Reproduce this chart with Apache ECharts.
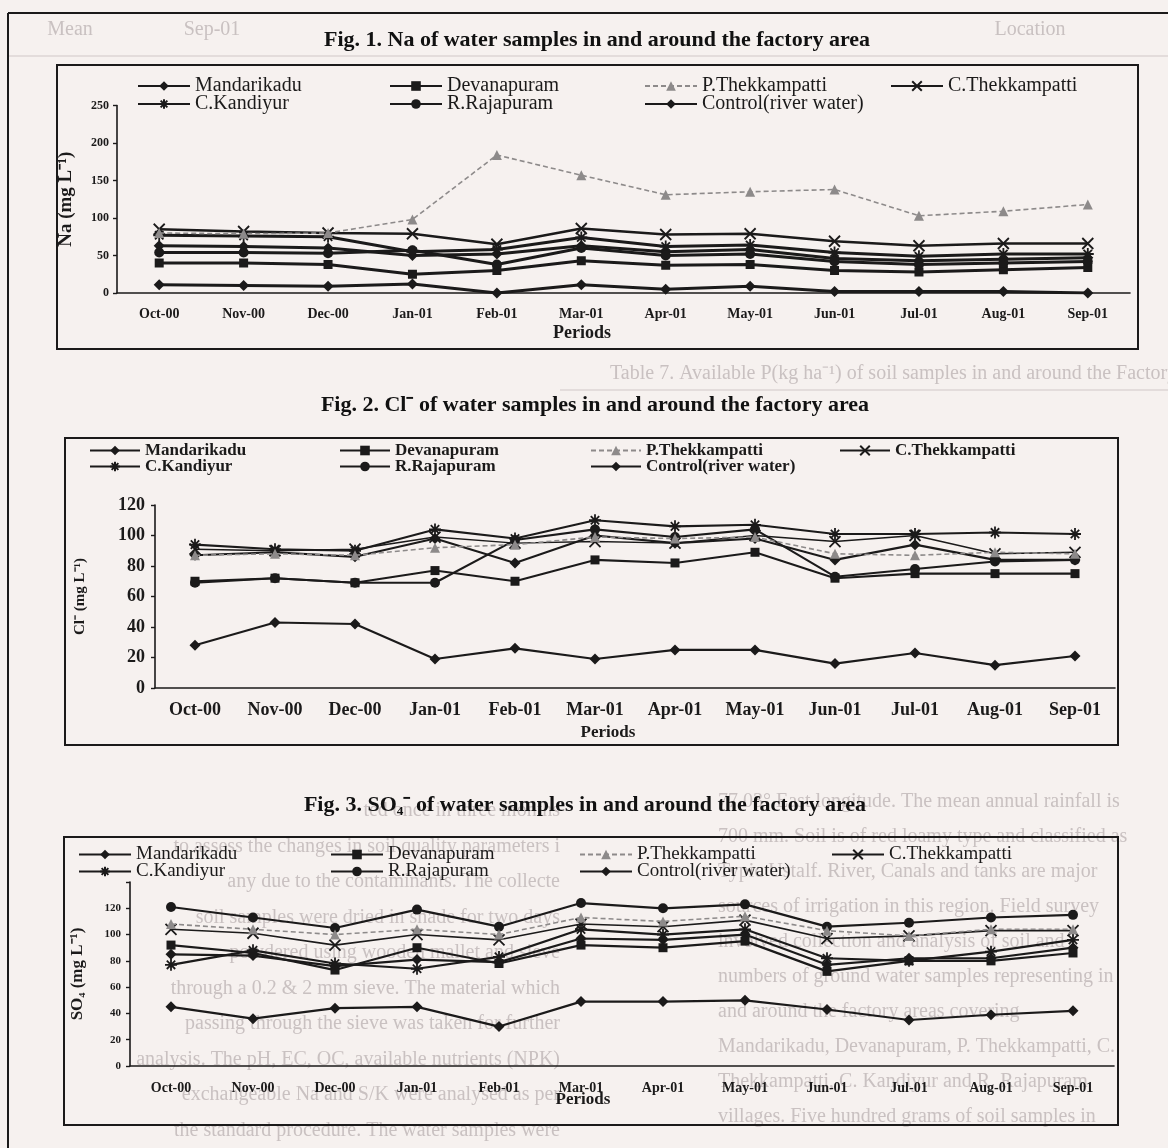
<!DOCTYPE html>
<html lang="en">
<head>
<meta charset="UTF-8">
<title>Na, Cl and SO4 of water samples in and around the factory area</title>
<script src="https://cdn.jsdelivr.net/npm/echarts@6/dist/echarts.min.js"></script>
<style>
  html, body { margin: 0; padding: 0; background: #f6f1ef; }
  #main { width: 1168px; height: 1148px; }
</style>
</head>
<body>
<div id="main"></div>
<script>
// sampling periods
var periods = ['Oct-00', 'Nov-00', 'Dec-00', 'Jan-01', 'Feb-01', 'Mar-01',
               'Apr-01', 'May-01', 'Jun-01', 'Jul-01', 'Aug-01', 'Sep-01'];
var stations = ['Mandarikadu', 'Devanapuram', 'P.Thekkampatti', 'C.Thekkampatti',
                'C.Kandiyur', 'R.Rajapuram', 'Control(river water)'];

// Fig. 1  Na (mg L-1)
var naMandarikadu   = [63, 62, 60, 50, 52, 63, 55, 58, 46, 43, 45, 47];
var naDevanapuram   = [40, 40, 38, 25, 30, 43, 37, 38, 30, 28, 31, 34];
var naPThekkampatti = [80, 79, 80, 98, 184, 157, 131, 135, 138, 103, 109, 118];
var naCThekkampatti = [85, 82, 80, 79, 65, 86, 78, 79, 69, 63, 66, 66];
var naCKandiyur     = [77, 76, 75, 55, 58, 74, 62, 64, 54, 49, 52, 52];
var naRRajapuram    = [54, 54, 53, 57, 38, 60, 50, 52, 42, 38, 40, 42];
var naControl       = [11, 10, 9, 12, 0, 11, 5, 9, 2, 2, 2, 0];

// Fig. 2  Cl- (mg L-1)
var clMandarikadu   = [87, 89, 86, 98, 82, 100, 95, 98, 84, 94, 84, 84];
var clDevanapuram   = [70, 72, 69, 77, 70, 84, 82, 89, 72, 75, 75, 75];
var clPThekkampatti = [87, 88, 87, 92, 94, 99, 98, 99, 88, 87, 89, 88];
var clCThekkampatti = [91, 90, 91, 99, 95, 96, 95, 100, 96, 100, 88, 89];
var clCKandiyur     = [94, 91, 90, 104, 98, 110, 106, 107, 101, 101, 102, 101];
var clRRajapuram    = [69, 72, 69, 69, 97, 104, 99, 104, 73, 78, 83, 84];
var clControl       = [28, 43, 42, 19, 26, 19, 25, 25, 16, 23, 15, 21];

// Fig. 3  SO4 (mg L-1)
var soMandarikadu   = [85, 84, 76, 81, 79, 97, 96, 100, 77, 82, 82, 90];
var soDevanapuram   = [92, 86, 73, 90, 78, 92, 90, 95, 72, 80, 80, 86];
var soPThekkampatti = [108, 104, 100, 104, 100, 113, 110, 114, 103, 99, 104, 104];
var soCThekkampatti = [104, 101, 92, 100, 96, 108, 106, 111, 97, 99, 103, 103];
var soCKandiyur     = [77, 88, 78, 74, 83, 104, 100, 104, 82, 80, 87, 96];
var soRRajapuram    = [121, 113, 105, 119, 106, 124, 120, 123, 106, 109, 113, 115];
var soControl       = [45, 36, 44, 45, 30, 49, 49, 50, 43, 35, 39, 42];

var naTicks = [0, 50, 100, 150, 200, 250];
var clTicks = [0, 20, 40, 60, 80, 100, 120];
var soTicks = [0, 20, 40, 60, 80, 100, 120];

var figData = [
  [naMandarikadu, naDevanapuram, naPThekkampatti, naCThekkampatti, naCKandiyur, naRRajapuram, naControl],
  [clMandarikadu, clDevanapuram, clPThekkampatti, clCThekkampatti, clCKandiyur, clRRajapuram, clControl],
  [soMandarikadu, soDevanapuram, soPThekkampatti, soCThekkampatti, soCKandiyur, soRRajapuram, soControl]
];

var SERIF = '"Liberation Serif", "Times New Roman", serif';
var INK = '#1b1a1a';
var GREY = '#8d8a8a';
var FAINT = '#c9c1c1';

// marker for each station
var symX = 'path://M0,0L10,10M10,0L0,10';
var symStar = 'path://M5,0L5,10M0,5L10,5M1.5,1.5L8.5,8.5M8.5,1.5L1.5,8.5';
var marks = [
  { symbol: 'diamond', size: 11, color: INK },
  { symbol: 'rect', size: 9, color: INK },
  { symbol: 'triangle', size: 10, color: GREY, dashed: true },
  { symbol: symX, size: 11, color: INK, stroke: true, thin: true },
  { symbol: symStar, size: 12, color: INK, stroke: true },
  { symbol: 'circle', size: 10, color: INK },
  { symbol: 'diamond', size: 11, color: INK }
];
var lineWidths = [2.9, 2.1, 2.2];

var series = [];
figData.forEach(function (rows, g) {
  rows.forEach(function (vals, i) {
    var m = marks[i];
    series.push({
      name: stations[i],
      type: 'line',
      xAxisIndex: g,
      yAxisIndex: g,
      data: vals,
      symbol: m.symbol,
      symbolSize: m.size,
      showAllSymbol: true,
      z: m.dashed ? 4 : 3,
      itemStyle: {
        color: m.color,
        borderColor: m.color,
        borderWidth: m.stroke ? 1.8 : 0
      },
      lineStyle: {
        color: m.color,
        width: m.dashed ? 1.6 : (m.thin ? lineWidths[g] - 0.6 : lineWidths[g]),
        type: m.dashed ? [5, 3] : 'solid'
      },
      emphasis: { disabled: true }
    });
  });
});

// legend boxes, one per item, placed like the printed keys
function legendsFor(cols, rows, iconW, font) {
  var slots = [[0, 0], [1, 0], [2, 0], [3, 0], [0, 1], [1, 1], [2, 1]];
  return stations.map(function (name, i) {
    var s = slots[i];
    return {
      data: [name],
      left: cols[s[0]],
      top: rows[s[1]] - 7,
      itemWidth: iconW,
      itemHeight: 12,
      padding: 0,
      selectedMode: false,
      textStyle: font
    };
  });
}
var legends = []
  .concat(legendsFor([137, 389, 644, 890], [83, 101], 52,
    { fontFamily: SERIF, fontSize: 20, color: INK }))
  .concat(legendsFor([89, 339, 590, 839], [449, 465], 50,
    { fontFamily: SERIF, fontSize: 17, fontWeight: 'bold', color: INK }))
  .concat(legendsFor([78, 330, 579, 831], [852, 869], 52,
    { fontFamily: SERIF, fontSize: 19, color: INK }));

function xAxisFor(g, fontSize, margin) {
  return {
    type: 'category',
    gridIndex: g,
    data: periods,
    axisLine: { lineStyle: { color: INK, width: 1.6 } },
    axisTick: { lineStyle: { color: INK, width: 1.4 }, length: 4 },
    axisLabel: { fontFamily: SERIF, fontWeight: 'bold', fontSize: fontSize, color: INK, margin: margin, interval: 0 },
    splitLine: { show: false }
  };
}
function yAxisFor(g, ticks, max, name, nameSize, nameGap, fontSize, margin) {
  return {
    type: 'value',
    gridIndex: g,
    min: ticks[0],
    max: max,
    interval: ticks[1] - ticks[0],
    name: name,
    nameLocation: 'middle',
    nameRotate: 90,
    nameGap: nameGap,
    nameTextStyle: { fontFamily: SERIF, fontWeight: 'bold', fontSize: nameSize, color: INK },
    axisLine: { show: true, lineStyle: { color: INK, width: 1.6 } },
    axisTick: { show: true, lineStyle: { color: INK, width: 1.4 }, length: 4 },
    axisLabel: {
      fontFamily: SERIF, fontWeight: 'bold', fontSize: fontSize, color: INK, margin: margin,
      formatter: function (v) { return ticks.indexOf(v) >= 0 ? String(v) : ''; }
    },
    splitLine: { show: false }
  };
}

// faint text of the printed page that shows round the figures
var leftColumn = [
  'ted once in three months',
  'to assess the changes in soil quality parameters i',
  'any due to the contaminants. The collecte',
  'soil samples were dried in shade for two days',
  'powdered using wooden mallet and sieve',
  'through a 0.2 & 2 mm sieve. The material which',
  'passing through the sieve was taken for further',
  'analysis. The pH, EC, OC, available nutrients (NPK)',
  'exchangeable Na and S/K were analysed as per',
  'the standard procedure. The water samples were'
];
var rightColumn = [
  '77.03° East longitude. The mean annual rainfall is',
  '700 mm. Soil is of red loamy type and classified as',
  'Typic Ustalf. River, Canals and tanks are major',
  'sources of irrigation in this region. Field survey',
  'involved collection and analysis of soil and',
  'numbers of ground water samples representing in',
  'and around the factory areas covering',
  'Mandarikadu, Devanapuram, P. Thekkampatti, C.',
  'Thekkampatti, C. Kandiyur and R. Rajapuram',
  'villages. Five hundred grams of soil samples in'
];
var tableHead = [['Mean', 70], ['Sep-01', 212], ['Location', 1030]];

var graphics = [];
leftColumn.forEach(function (t, k) {
  graphics.push({ type: 'text', z: -5, x: 560, y: 811 + k * 35.5,
    style: { text: t, fill: FAINT, font: '20px ' + SERIF, textAlign: 'right', textVerticalAlign: 'middle' } });
});
rightColumn.forEach(function (t, k) {
  graphics.push({ type: 'text', z: -5, x: 718, y: 802 + k * 35,
    style: { text: t, fill: FAINT, font: '20px ' + SERIF, textAlign: 'left', textVerticalAlign: 'middle' } });
});
tableHead.forEach(function (h) {
  graphics.push({ type: 'text', z: -5, x: h[1], y: 30,
    style: { text: h[0], fill: FAINT, font: '20px ' + SERIF, textAlign: 'center', textVerticalAlign: 'middle' } });
});
graphics.push({ type: 'line', z: -5, shape: { x1: 8, y1: 56, x2: 1168, y2: 56 }, style: { stroke: '#ddd5d5', lineWidth: 1.5 } });
graphics.push({ type: 'text', z: -5, x: 610, y: 374,
  style: { text: 'Table 7. Available P(kg ha⁻¹) of soil samples in and around the Factory Area',
    fill: FAINT, font: '20px ' + SERIF, textVerticalAlign: 'middle' } });
graphics.push({ type: 'line', z: -5, shape: { x1: 560, y1: 390, x2: 1168, y2: 390 }, style: { stroke: '#ddd5d5', lineWidth: 1.5 } });

// page frame and figure boxes
graphics.push({ type: 'line', z: 1, shape: { x1: 8, y1: 13, x2: 1168, y2: 13 }, style: { stroke: INK, lineWidth: 2 } });
graphics.push({ type: 'line', z: 1, shape: { x1: 8, y1: 13, x2: 8, y2: 1148 }, style: { stroke: INK, lineWidth: 2 } });
[[57, 65, 1081, 284], [65, 438, 1053, 307], [64, 837, 1054, 288]].forEach(function (b) {
  graphics.push({ type: 'rect', z: 1, shape: { x: b[0], y: b[1], width: b[2], height: b[3] },
    style: { fill: 'none', stroke: INK, lineWidth: 2 } });
});

// figure captions
function caption(x, y, text) {
  return { type: 'text', z: 10, x: x, y: y,
    style: { text: text, fill: '#111', font: 'bold 22px ' + SERIF, textAlign: 'center', textVerticalAlign: 'middle' } };
}
graphics.push(caption(597, 40, 'Fig. 1. Na of water samples in and around the factory area'));
graphics.push(caption(595, 405, 'Fig. 2. Cl⁻ of water samples in and around the factory area'));
graphics.push(caption(585, 805, 'Fig. 3. SO₄⁻ of water samples in and around the factory area'));

// x axis titles
[[582, 333, 18], [608, 733, 17], [583, 1100, 17]].forEach(function (p) {
  graphics.push({ type: 'text', z: 10, x: p[0], y: p[1],
    style: { text: 'Periods', fill: INK, font: 'bold ' + p[2] + 'px ' + SERIF, textAlign: 'center', textVerticalAlign: 'middle' } });
});

var chart = echarts.init(document.getElementById('main'));
chart.setOption({
  backgroundColor: '#f6f1ef',
  animation: false,
  legend: legends,
  grid: [
    { left: 117, top: 105.5, width: 1013, height: 187.5 },
    { left: 155, top: 505, width: 960, height: 183 },
    { left: 130, top: 882, width: 984, height: 184 }
  ],
  xAxis: [xAxisFor(0, 14, 14), xAxisFor(1, 18, 13), xAxisFor(2, 14, 15)],
  yAxis: [
    yAxisFor(0, naTicks, 250, 'Na (mg L⁻¹)', 19, 41, 12, 8),
    yAxisFor(1, clTicks, 120, 'Cl⁻ (mg L⁻¹)', 15, 67, 18, 10),
    yAxisFor(2, soTicks, 140, 'SO₄ (mg L⁻¹)', 17, 44, 11, 9)
  ],
  series: series,
  graphic: graphics
});
</script>
</body>
</html>
